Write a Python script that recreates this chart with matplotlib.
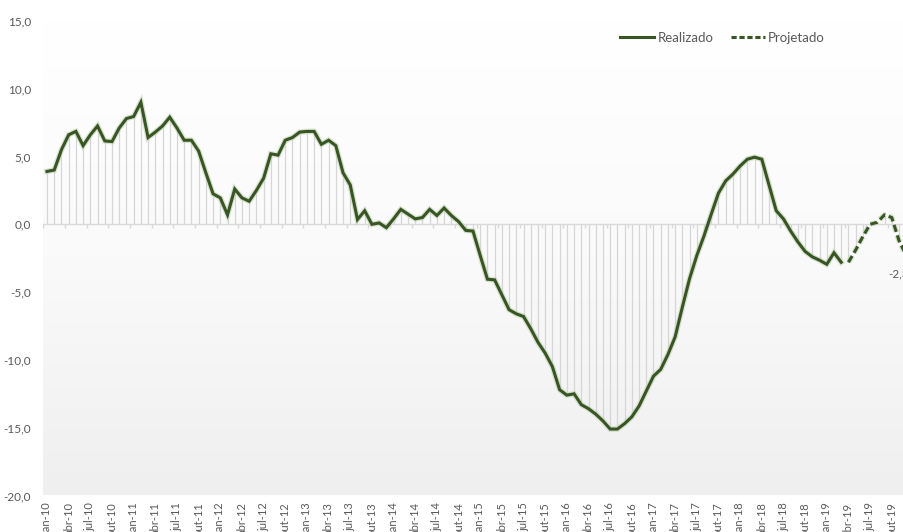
import numpy as np
import matplotlib
matplotlib.use("Agg")
import matplotlib.pyplot as plt
import matplotlib.patheffects as pe
from matplotlib.colors import LinearSegmentedColormap
from matplotlib.lines import Line2D

# Monthly series, jan-10 .. dez-19 (index 0 = jan-10)
realizado = [
    3.9, 4.0, 5.5, 6.6, 6.85, 5.8, 6.6, 7.25, 6.15, 6.1, 7.1, 7.8,
    7.95, 9.0, 6.4, 6.8, 7.25, 7.9, 7.1, 6.2, 6.2, 5.4, 3.8, 2.25,
    1.95, 0.7, 2.6, 1.95, 1.7, 2.5, 3.4, 5.2, 5.1, 6.2, 6.4, 6.8,
    6.85, 6.85, 5.9, 6.2, 5.8, 3.8, 2.9, 0.35, 1.0, 0.0, 0.1, -0.25,
    0.4, 1.1, 0.75, 0.4, 0.5, 1.1, 0.65, 1.2, 0.65, 0.2, -0.45, -0.5,
    -2.3, -4.05, -4.1, -5.2, -6.3, -6.6, -6.8, -7.7, -8.7, -9.5, -10.5, -12.2,
    -12.6, -12.5, -13.3, -13.6, -14.0, -14.5, -15.1, -15.1, -14.7, -14.2, -13.4, -12.3,
    -11.2, -10.7, -9.6, -8.3, -6.1, -4.0, -2.3, -0.85, 0.75, 2.3, 3.2, 3.7,
    4.3, 4.8, 4.95, 4.8, 2.9, 1.0, 0.4, -0.5, -1.3, -2.0, -2.4, -2.65,
    -2.95, -2.1, -2.8,
]
projetado = [-2.8, -1.9, -0.9, 0.0, 0.15, 0.7, 0.5, -1.2, -2.3]

meses = ["jan", "abr", "jul", "out"]
anos = range(10, 20)
tick_labels = [f"{m}-{a}" for a in anos for m in meses]

n_real = len(realizado)
x_real = np.arange(n_real)
x_proj = np.arange(n_real, n_real + len(projetado))
n_total = n_real + len(projetado)

plt.rcParams["font.family"] = ["Lato", "DejaVu Sans"]
grey_txt = "#595959"
green = "#375623"

fig = plt.figure(figsize=(9.04, 5.32), dpi=100)
ax = fig.add_axes([43.4 / 904, 1 - 495.5 / 532, (909.8 - 43.4) / 904, (495.5 - 20.9) / 532])

xmin, xmax = -0.5, n_total - 0.5
ymin, ymax = -20, 15

# plot area gradient: white at top, light grey at bottom
cmap = LinearSegmentedColormap.from_list("bg", ["#ffffff", "#fafafa", "#efefef"])
grad = np.linspace(0, 1, 256).reshape(-1, 1)
ax.imshow(grad, cmap=cmap, aspect="auto", extent=[xmin, xmax, ymin, ymax],
          origin="upper", zorder=0)

# drop lines from every point to zero
ax.vlines(x_real, 0, realizado, color="#d6d6d6", lw=0.9, zorder=1)
ax.vlines(x_proj, 0, projetado, color="#d6d6d6", lw=0.9, zorder=1)

# zero axis with small tick marks between categories
ax.axhline(0, color="#d9d9d9", lw=1.0, zorder=1)
ax.vlines(np.arange(-0.5, n_total, 3), -0.3, 0, color="#d9d9d9", lw=1.0, zorder=1)

glow = [pe.Stroke(linewidth=4.0, foreground="#c3d1b6", alpha=0.6), pe.Normal()]
ax.plot(x_real, realizado, color=green, lw=2.2, zorder=3,
        solid_joinstyle="miter", path_effects=glow)
ax.plot(x_proj, projetado, color=green, lw=2.2, zorder=3, dashes=(2.4, 1.2),
        path_effects=glow)

# value label on the last projected point
last = projetado[-1]
ax.annotate(f"{last:.1f}".replace(".", ","), (x_proj[-1], last),
            xytext=(-5.5, -13), textcoords="offset points", ha="center", va="center",
            fontsize=8.5, color=grey_txt, zorder=4, annotation_clip=False)

ax.set_xlim(xmin, xmax)
ax.set_ylim(ymin, ymax)
ax.set_yticks(np.arange(-20, 16, 5))
ax.set_yticklabels([f"{v:.1f}".replace(".", ",") for v in np.arange(-20, 16, 5)])
ax.set_xticks(np.arange(0, n_total, 3))
ax.set_xticklabels(tick_labels[: len(range(0, n_total, 3))], rotation=90)
ax.tick_params(axis="y", length=0, pad=9, labelsize=8.5, labelcolor=grey_txt)
ax.tick_params(axis="x", length=0, pad=5, labelsize=8, labelcolor=grey_txt)
for s in ax.spines.values():
    s.set_visible(False)

handles = [Line2D([], [], color=green, lw=2.2),
           Line2D([], [], color=green, lw=2.2, dashes=(1.7, 0.9))]
fig.legend(handles, ["Realizado", "Projetado"], loc="center left",
           bbox_to_anchor=(620 / 904, 1 - 38 / 532), ncol=2, frameon=False,
           fontsize=9.5, labelcolor=grey_txt, handlelength=2.6,
           handletextpad=0.25, columnspacing=1.3, borderpad=0, borderaxespad=0)

fig.savefig("out.png", dpi=100)
